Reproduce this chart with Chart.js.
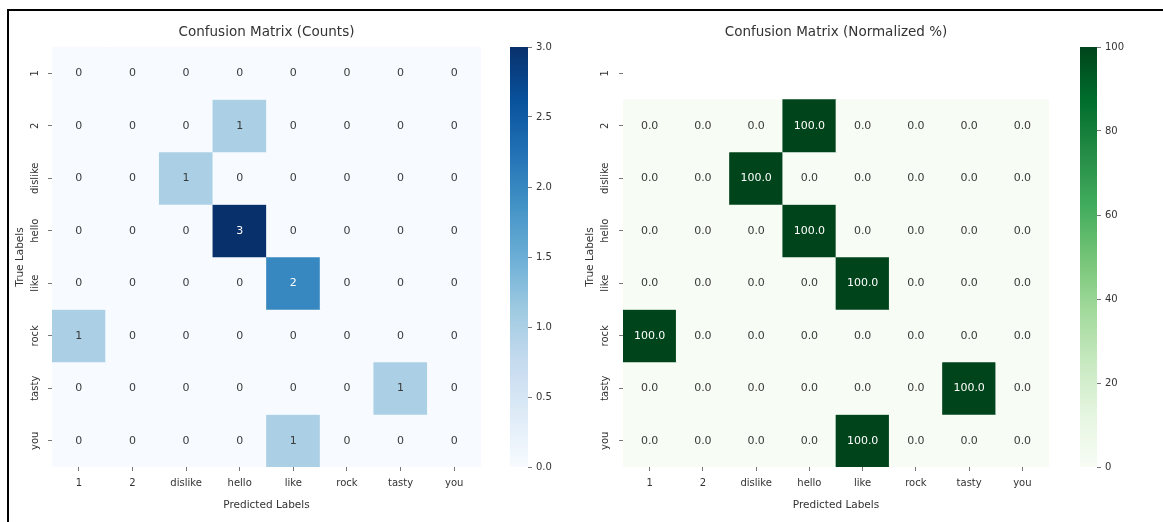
<!DOCTYPE html>
<html>
<head>
<meta charset="utf-8">
<script src="https://cdn.jsdelivr.net/npm/chart.js@4"></script>
<style>
  body { margin: 0; background: #fff; width: 1163px; height: 522px; overflow: hidden; position: relative; }
  .frame { position: absolute; left: 7px; top: 9px; width: 1200px; height: 600px; border-top: 2px solid #000; border-left: 2px solid #000; }
  .box { position: absolute; }
</style>
</head>
<body>
<div class="frame"></div>
<div class="box" style="left:10px;top:12px;width:490px;height:506px"><canvas id="counts"></canvas></div>
<div class="box" style="left:505px;top:12px;width:55px;height:506px"><canvas id="countsBar"></canvas></div>
<div class="box" style="left:580px;top:12px;width:490px;height:506px"><canvas id="norm"></canvas></div>
<div class="box" style="left:1075px;top:12px;width:65px;height:506px"><canvas id="normBar"></canvas></div>
<script>
const labels = ['1', '2', 'dislike', 'hello', 'like', 'rock', 'tasty', 'you'];

// rows = true label, columns = predicted label
const counts = [
    [0, 0, 0, 0, 0, 0, 0, 0],
    [0, 0, 0, 1, 0, 0, 0, 0],
    [0, 0, 1, 0, 0, 0, 0, 0],
    [0, 0, 0, 3, 0, 0, 0, 0],
    [0, 0, 0, 0, 2, 0, 0, 0],
    [1, 0, 0, 0, 0, 0, 0, 0],
    [0, 0, 0, 0, 0, 0, 1, 0],
    [0, 0, 0, 0, 1, 0, 0, 0]
];

const percent = [
    [null, null, null, null, null, null, null, null],
    [0, 0, 0, 100, 0, 0, 0, 0],
    [0, 0, 100, 0, 0, 0, 0, 0],
    [0, 0, 0, 100, 0, 0, 0, 0],
    [0, 0, 0, 0, 100, 0, 0, 0],
    [100, 0, 0, 0, 0, 0, 0, 0],
    [0, 0, 0, 0, 0, 0, 100, 0],
    [0, 0, 0, 0, 100, 0, 0, 0]
];

const countTicks = [0, 0.5, 1, 1.5, 2, 2.5, 3];
const percentTicks = [0, 20, 40, 60, 80, 100];

const blues = ['#f7fbff', '#deebf7', '#c6dbef', '#9ecae1', '#6baed6', '#4292c6', '#2171b5', '#08519c', '#08306b'];
const greens = ['#f7fcf5', '#e5f5e0', '#c7e9c0', '#a1d99b', '#74c476', '#41ab5d', '#238b45', '#006d2c', '#00441b'];

const font = 'DejaVu Sans';

const hex = (h) => [1, 3, 5].map(i => parseInt(h.slice(i, i + 2), 16));

const cmap = (stops, t) => {
    t = Math.max(0, Math.min(1, t));
    const pos = t * (stops.length - 1);
    const i = Math.min(Math.floor(pos), stops.length - 2);
    const f = pos - i;
    const a = hex(stops[i]), b = hex(stops[i + 1]);
    const c = a.map((v, k) => Math.round(v + (b[k] - v) * f));
    return `rgb(${c[0]},${c[1]},${c[2]})`;
}

// writes the value in the middle of every cell, and the title over the plot area
const annotate = {
    id: 'annotate',
    afterDatasetsDraw(chart, args, opts) {
        const ctx = chart.ctx;
        const area = chart.chartArea;
        ctx.save();
        ctx.textAlign = 'center';
        ctx.textBaseline = 'middle';
        ctx.font = `13.5px "${font}"`;
        ctx.fillStyle = '#333';
        ctx.fillText(opts.title, (area.left + area.right) / 2, area.top - 15);
        ctx.font = `11px "${font}"`;
        chart.data.datasets.forEach((ds, r) => {
            const meta = chart.getDatasetMeta(r);
            meta.data.forEach((el, c) => {
                const v = opts.values[r][c];
                if (v === null) return;
                ctx.fillStyle = v / opts.max > 0.5 ? '#ffffff' : '#3a3a3a';
                ctx.fillText(opts.format(v), el.x, (el.y + el.base) / 2);
            });
        });
        ctx.restore();
    }
}

const heatmap = (id, title, values, stops, max, format, yWidth, yPad, rightPad) => {
    new Chart(document.getElementById(id), {
        type: 'bar',
        data: {
            labels: labels,
            datasets: values.map(row => ({
                data: row.map(() => 1),
                backgroundColor: row.map(v => v === null ? 'rgba(0,0,0,0)' : cmap(stops, v / max)),
                borderWidth: 0,
                categoryPercentage: 1,
                barPercentage: 1
            }))
        },
        options: {
            responsive: true,
            maintainAspectRatio: false,
            animation: false,
            events: [],
            layout: { padding: { top: 35, right: rightPad } },
            plugins: {
                legend: { display: false },
                tooltip: { enabled: false },
                title: { display: false },
                annotate: { title: title, values: values, max: max, format: format }
            },
            scales: {
                x: {
                    stacked: true,
                    grid: { offset: false, drawOnChartArea: false, tickLength: 4, color: '#777' },
                    border: { display: false },
                    ticks: { color: '#333', font: { family: font, size: 10 }, padding: 6 },
                    title: {
                        display: true,
                        text: 'Predicted Labels',
                        color: '#333',
                        font: { family: font, size: 10.5 },
                        padding: { top: 0, bottom: 6 }
                    },
                    afterFit: (s) => { s.height = 51; }
                },
                y: {
                    type: 'linear',
                    stacked: true,
                    min: 0,
                    max: labels.length,
                    reverse: true,
                    afterBuildTicks: (ax) => { ax.ticks = labels.map((l, i) => ({ value: i + 0.5 })); },
                    grid: { drawOnChartArea: false, tickLength: 4, color: '#777' },
                    border: { display: false },
                    ticks: {
                        callback: (v) => labels[Math.floor(v)],
                        autoSkip: false,
                        minRotation: 90,
                        maxRotation: 90,
                        crossAlign: 'center',
                        padding: yPad,
                        color: '#333',
                        font: { family: font, size: 10 }
                    },
                    title: {
                        display: true,
                        text: 'True Labels',
                        color: '#333',
                        font: { family: font, size: 10.5 },
                        padding: { top: 4, bottom: 0 }
                    },
                    afterFit: (s) => { s.width = yWidth; }
                }
            }
        },
        plugins: [annotate]
    });
}

const colorbar = (id, stops, ticks, format, axisWidth) => {
    const max = ticks[ticks.length - 1];
    new Chart(document.getElementById(id), {
        type: 'bar',
        data: {
            labels: [''],
            datasets: [{
                data: [[ticks[0], max]],
                borderWidth: 0,
                categoryPercentage: 1,
                barPercentage: 1,
                backgroundColor: (ctx) => {
                    const area = ctx.chart.chartArea;
                    if (!area) return stops[0];
                    const g = ctx.chart.ctx.createLinearGradient(0, area.bottom, 0, area.top);
                    stops.forEach((s, i) => g.addColorStop(i / (stops.length - 1), s));
                    return g;
                }
            }]
        },
        options: {
            responsive: true,
            maintainAspectRatio: false,
            animation: false,
            events: [],
            layout: { padding: { left: 5, top: 35, bottom: 51 } },
            plugins: { legend: { display: false }, tooltip: { enabled: false } },
            scales: {
                x: { display: false },
                y: {
                    position: 'right',
                    min: ticks[0],
                    max: max,
                    afterBuildTicks: (ax) => { ax.ticks = ticks.map(v => ({ value: v })); },
                    grid: { drawOnChartArea: false, tickLength: 4, color: '#777' },
                    border: { display: false },
                    ticks: {
                        callback: format,
                        padding: 4,
                        color: '#333',
                        font: { family: font, size: 10 }
                    },
                    afterFit: (s) => { s.width = axisWidth; }
                }
            }
        }
    });
}

heatmap('counts', 'Confusion Matrix (Counts)', counts, blues, 3, v => String(v), 42, -3, 19);
heatmap('norm', 'Confusion Matrix (Normalized %)', percent, greens, 100, v => v.toFixed(1), 43, -2, 21);
colorbar('countsBar', blues, countTicks, v => v.toFixed(1), 32);
colorbar('normBar', greens, percentTicks, v => String(v), 43);
</script>
</body>
</html>
